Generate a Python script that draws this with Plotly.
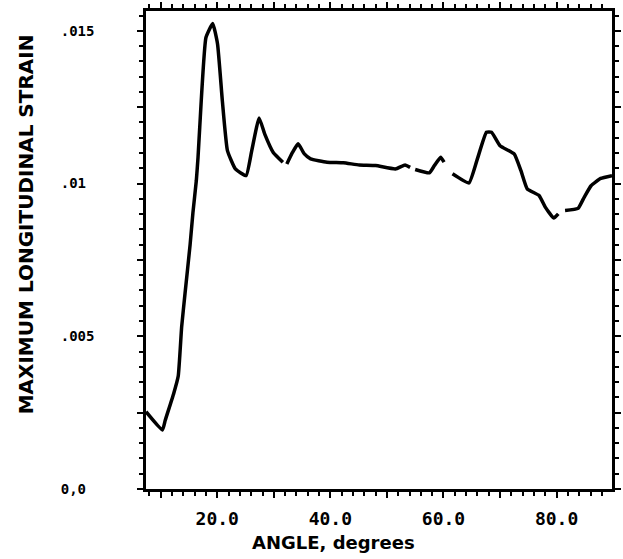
import plotly.graph_objects as go

# Angle (degrees) and maximum longitudinal strain; None = gap in trace
angle = [7.4, 10.3, 10.8, 12.3, 13.1, 13.7, 14.3, 15.2, 15.7, 16.3, 16.6, 16.9, 18.0, 19.2,
         20.05, 20.9, 21.8, 23.2, 25.1, 26.1, 27.4, 28.4, 29.9, 31.6, None,
         32.3, 33.3, 34.3, 35.4, 36.5, 39.4, 42.3, 45.1, 48.0, 51.5, 53.2, 54.1, None,
         55.0, 57.5, 58.4, 59.5, 60.1, None,
         61.6, 64.5, 65.9, 67.6, 68.5, 70.0, 72.5, 73.7, 74.8, 76.9, 78.0, 79.5, 80.3, None,
         81.5, 83.8, 84.9, 86.1, 87.8, 89.8]
strain = [0.00253, 0.00193, 0.00225, 0.00313, 0.00370, 0.00530, 0.00640, 0.00800, 0.00905, 0.01010,
          0.01086, 0.01184, 0.01478, 0.01524,
          0.01457, 0.01271, 0.01108, 0.01048, 0.01026, 0.01108, 0.01215, 0.01162, 0.01102, 0.01070, None,
          0.01064, 0.01102, 0.01130, 0.01097, 0.01081, 0.01070, 0.01068, 0.01061, 0.01059, 0.01048,
          0.01061, 0.01053, None,
          0.01046, 0.01035, 0.01059, 0.01086, 0.01070, None,
          0.01032, 0.01002, 0.01075, 0.01168, 0.01168, 0.01124, 0.01097, 0.01042, 0.00983, 0.00961,
          0.00923, 0.00887, 0.00901, None,
          0.00912, 0.00919, 0.00956, 0.00993, 0.01017, 0.01026]

x_tickvals = [10, 20, 30, 40, 50, 60, 70, 80]
x_ticktext = ["", "20.0", "", "40.0", "", "60.0", "", "80.0"]
y_tickvals = [0, 0.0025, 0.005, 0.0075, 0.01, 0.0125, 0.015]
y_ticktext = ["0,0\u00a0", "", ".005", "", ".01\u00a0", "", ".015"]

x_title = "ANGLE, degrees"
y_title = "MAXIMUM LONGITUDINAL STRAIN"

fig = go.Figure()
fig.add_trace(go.Scatter(x=angle, y=strain, mode="lines", connectgaps=False,
                         line=dict(color="black", width=3.5, shape="spline", smoothing=0.4),
                         showlegend=False, hoverinfo="skip"))

W, H = 623, 559
L, R, T, B = 146, 2, 10, 70
pw, ph = W - L - R, H - T - B

fig.update_layout(
    width=W, height=H,
    margin=dict(l=L, r=R, t=T, b=B, pad=0),
    plot_bgcolor="white", paper_bgcolor="white",
    showlegend=False,
    xaxis=dict(range=[7.4, 89.8], tickmode="array", tickvals=x_tickvals, ticktext=x_ticktext,
               showgrid=False, zeroline=False, showline=True, linecolor="black", linewidth=2.5,
               mirror="ticks", ticks="outside", ticklen=6, tickwidth=2, tickcolor="black",
               minor=dict(dtick=2, tick0=0, ticks="outside", ticklen=4, tickwidth=2, tickcolor="black"),
               tickfont=dict(family="DejaVu Sans Mono", size=18, color="black", weight="bold"),
               ticklabelstandoff=6),
    yaxis=dict(range=[0, 0.01565], tickmode="array", tickvals=y_tickvals, ticktext=y_ticktext,
               showgrid=False, zeroline=False, showline=True, linecolor="black", linewidth=2.5,
               mirror="ticks", ticks="outside", ticklen=6, tickwidth=2, tickcolor="black",
               minor=dict(dtick=0.0005, tick0=0, ticks="outside", ticklen=4, tickwidth=2, tickcolor="black"),
               tickfont=dict(family="DejaVu Sans Mono", size=14, color="black", weight="bold"),
               ticklabelstandoff=40),
)

fig.add_annotation(text=y_title, xref="paper", yref="paper",
                   x=(23.5 - L) / pw, y=(H - B - 224) / ph, xanchor="center", yanchor="middle",
                   textangle=-90, showarrow=False,
                   font=dict(family="DejaVu Sans", size=20, color="black", weight="bold"))
fig.add_annotation(text=x_title, xref="paper", yref="paper",
                   x=(337 - L) / pw, y=(H - B - 543) / ph, xanchor="center", yanchor="middle",
                   showarrow=False,
                   font=dict(family="DejaVu Sans", size=18, color="black", weight="bold"))

fig.write_html("out.html")
